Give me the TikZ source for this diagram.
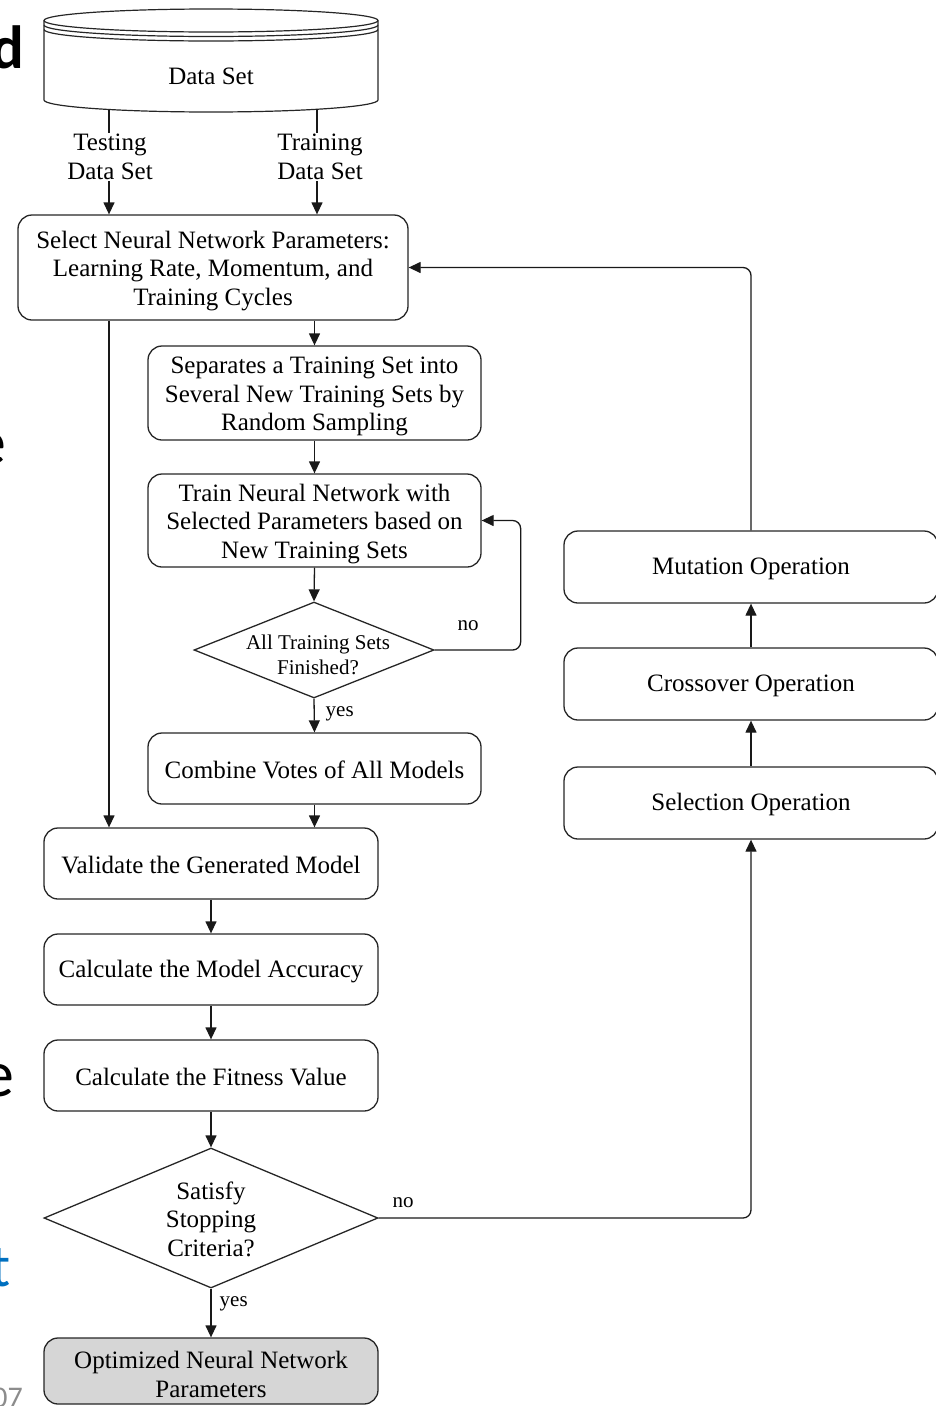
\documentclass[tikz,border=0pt]{standalone}
\usepackage{fontspec}
\setmainfont{Liberation Serif}
\newfontfamily\slidefont{Carlito}
\usetikzlibrary{arrows.meta,shapes.geometric}
% taller first line, so that multi-line box texts sit a little lower
\newcommand{\firstlinestrut}{\rule{0pt}{24pt}}

\begin{document}
\begin{tikzpicture}[x=1pt,y=-1pt,
  txt/.style={font=\fontsize{25}{28.5}\selectfont, align=center},
  smalltxt/.style={font=\fontsize{21}{25}\selectfont, align=center},
  box/.style={txt, draw=black!85, line width=1.3pt, rounded corners=14pt, inner sep=0pt, fill=white},
  onebox/.style={box, execute at begin node={\rule{0pt}{20.5pt}}},
  dec/.style={diamond, draw=black!85, line width=1.3pt, inner sep=0pt, fill=white},
  conn/.style={draw=black!90, line width=1.3pt, -{Triangle[length=12pt,width=11pt]}},
  lbl/.style={fill=white, inner sep=1.5pt},
  slide/.style={anchor=base east, inner sep=0pt},
]

\useasboundingbox (0,0) rectangle (935,1406);

% slide text cut off at the left margin
\node[slide, font=\slidefont\fontsize{61}{61}\selectfont\bfseries] (g1) at (24,68) {d};
\node[slide, font=\slidefont\fontsize{66}{66}\selectfont] (g2) at (7,464) {e};
\node[slide, font=\slidefont\fontsize{66}{66}\selectfont] (g3) at (15,1096) {e};
\node[slide, font=\slidefont\fontsize{60}{60}\selectfont, text={rgb,255:red,0;green,112;blue,192}] (g4) at (11,1286) {t};
\node[slide, font=\slidefont\fontsize{30}{30}\selectfont, text=black!45] (g5) at (23,1407) {07};

% data store (cylinder)
\begin{scope}[line width=1.2pt, draw=black!85]
  \draw (44,20.5) -- (44,100)
        .. controls (44,106.6) and (118.8,112) .. (211,112)
        .. controls (303.2,112) and (378,106.6) .. (378,100) -- (378,20.5);
  \draw (211,20.5) ellipse [x radius=167, y radius=11.5];
  \draw (44,25) .. controls (44,31.4) and (118.8,36.5) .. (211,36.5)
        .. controls (303.2,36.5) and (378,31.4) .. (378,25);
  \draw (44,29.5) .. controls (44,35.9) and (118.8,41) .. (211,41)
        .. controls (303.2,41) and (378,35.9) .. (378,29.5);
\end{scope}
\node[txt] (ds) at (211,76) {Data Set};

% main column
\node[box, minimum width=390pt, minimum height=105pt] (sel) at (213,267.5)
  {\firstlinestrut Select Neural Network Parameters:\\Learning Rate, Momentum, and\\Training Cycles};
\node[box, minimum width=333pt, minimum height=94pt] (sep) at (314.5,393)
  {\firstlinestrut Separates a Training Set into\\Several New Training Sets by\\Random Sampling};
\node[box, minimum width=333pt, minimum height=93pt] (trn) at (314.5,520.5)
  {\firstlinestrut Train Neural Network with\\Selected Parameters based on\\New Training Sets};
\node[dec, minimum width=240pt, minimum height=96pt] (fin) at (314,650) {};
\node[smalltxt] (finT) at (318,655) {All Training Sets\\Finished?};
\node[onebox, minimum width=333pt, minimum height=71pt] (cmb) at (314.5,768.5)
  {Combine Votes of All Models};
\node[onebox, minimum width=334pt, minimum height=71pt] (val) at (211,863.5)
  {Validate the Generated Model};
\node[onebox, minimum width=334pt, minimum height=71pt] (acc) at (211,969.5)
  {Calculate the Model Accuracy};
\node[onebox, minimum width=334pt, minimum height=71pt] (fit) at (211,1075.5)
  {Calculate the Fitness Value};
\node[dec, minimum width=334pt, minimum height=140pt] (stop) at (211,1218) {};
\node[txt] (stopT) at (211,1219) {Satisfy\\Stopping\\Criteria?};
\node[box, fill=black!16, minimum width=334pt, minimum height=66pt] (opt) at (211,1371)
  {\firstlinestrut Optimized Neural Network\\Parameters};

% genetic operators
\node[onebox, minimum width=374pt, minimum height=72pt] (mut) at (751,567) {Mutation Operation};
\node[onebox, minimum width=374pt, minimum height=72pt] (crs) at (751,684) {Crossover Operation};
\node[onebox, minimum width=374pt, minimum height=72pt] (slo) at (751,803) {Selection Operation};

% connectors
\coordinate (tsA) at (109,109.5);
\coordinate (trA) at (317,109.3);
\draw[conn] (tsA) -- (tsA |- sel.north);
\draw[conn] (trA) -- (trA |- sel.north);
\draw[conn] (sel.south -| tsA) -- (val.north -| tsA);
\draw[conn] (sel.south -| sep.north) -- (sep.north);
\draw[conn] (sep.south) -- (trn.north);
\draw[conn] (trn.south) -- (fin.north);
\draw[conn, rounded corners=8pt] (fin.east) -- ++(86,0) |- (trn.east);
\draw[conn] (fin.south) -- (cmb.north);
\draw[conn] (cmb.south) -- (cmb.south |- val.north);
\draw[conn] (val.south) -- (acc.north);
\draw[conn] (acc.south) -- (fit.north);
\draw[conn] (fit.south) -- (stop.north);
\draw[conn] (stop.south) -- (opt.north);
\draw[conn, rounded corners=8pt] (stop.east) -| (slo.south);
\draw[conn] (slo.north) -- (crs.south);
\draw[conn] (crs.north) -- (mut.south);
\draw[conn, rounded corners=8pt] (mut.north) |- (sel.east);

% connector labels
\node[txt, lbl] (tsL) at (110,157) {Testing\\Data Set};
\node[txt, lbl] (trL) at (320,157) {Training\\Data Set};
\node[smalltxt, lbl] (noA) at (468,626) {no};
\node[smalltxt, lbl, anchor=west] (yesA) at (324,714) {yes};
\node[smalltxt, lbl] (noB) at (403,1203) {no};
\node[smalltxt, lbl, anchor=west] (yesB) at (218,1304) {yes};
\end{tikzpicture}
\end{document}
